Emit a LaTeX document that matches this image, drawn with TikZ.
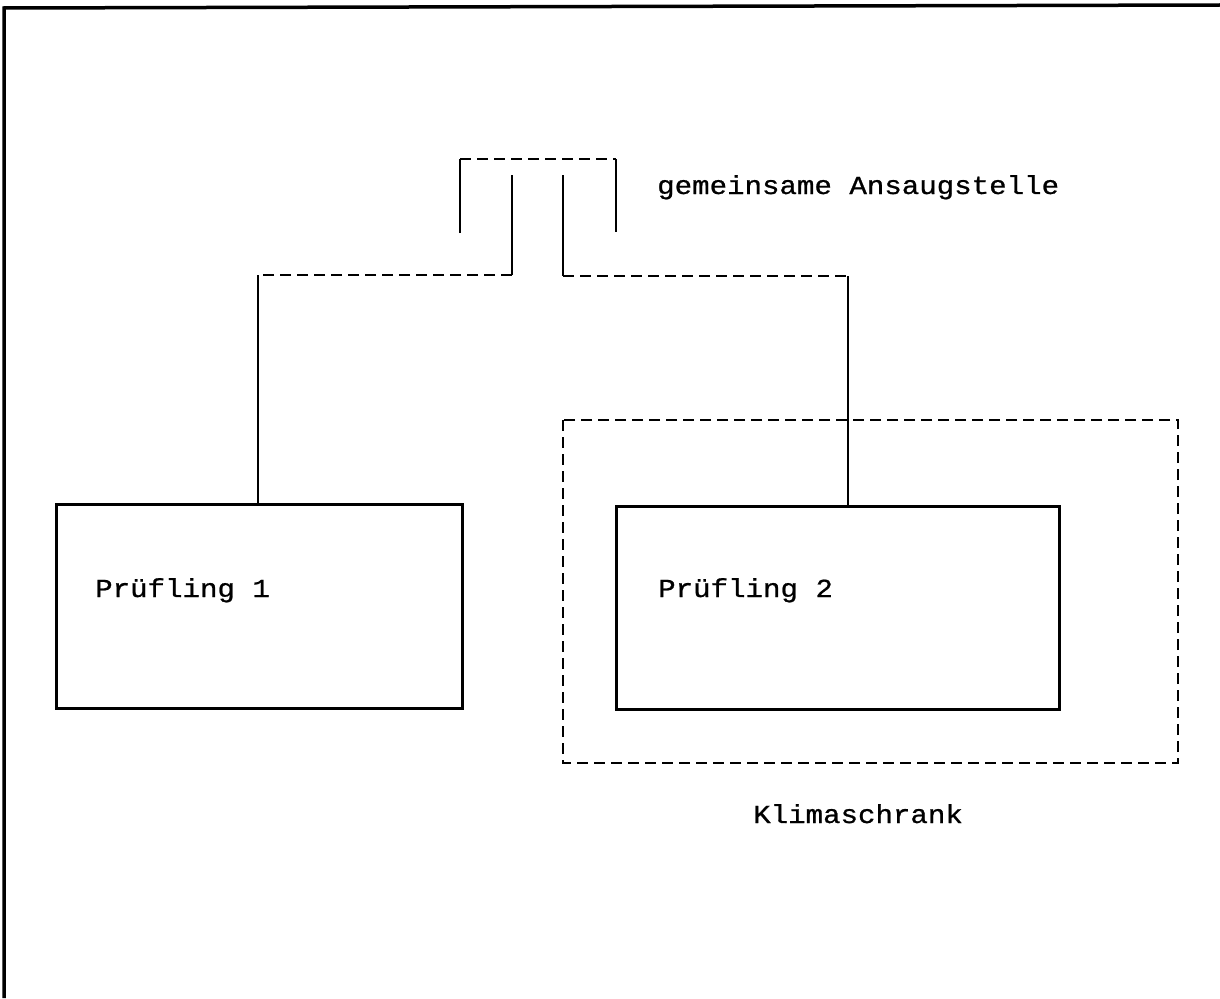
\documentclass[tikz,border=0pt]{standalone}
\usepackage{fontspec}
\setmonofont[FakeBold=0.8]{Liberation Mono}
\begin{document}
\begin{tikzpicture}[x=1pt,y=-1pt,
  thinline/.style={line width=1.5pt},
  dashline/.style={line width=2pt, dash pattern=on 11pt off 6pt},
  testbox/.style={draw, line width=3pt, rectangle, inner sep=0, anchor=north west},
  lbl/.style={anchor=base west, inner sep=0, font=\ttfamily\fontsize{26}{30}\selectfont}
]
\useasboundingbox (0,0) rectangle (1220,998);
% frame
\draw[line width=3.5pt] (4,998) -- (4,8) -- (1220,5);

% test objects
\node[testbox, minimum width=406pt, minimum height=204pt] (p1) at (55,503) {};
\node[testbox, minimum width=443pt, minimum height=203pt] (p2) at (615,505) {};
\node[lbl] (t1) at (95,597) {\scalebox{1.12}[1]{Prüfling 1}};
\node[lbl] (t2) at (658,597) {\scalebox{1.12}[1]{Prüfling 2}};

% climate chamber
\draw[dashline] (563,420) rectangle (1178,763);
\node[lbl] (tk) at (753,823) {\scalebox{1.12}[1]{Klimaschrank}};

% common intake
\coordinate (capL) at (460,233);
\coordinate (capLT) at (460,159);
\coordinate (capRT) at (616,159);
\coordinate (capR) at (616,232);
\draw[thinline] (capL) -- (capLT);
\draw[thinline] (capRT) -- (capR);
\draw[dashline] (capLT) -- (capRT);
\node[lbl] (ta) at (657,194) {\scalebox{1.12}[1]{gemeinsame Ansaugstelle}};

% pipe to Pruefling 1
\coordinate (i1) at (512,175);
\coordinate (b1) at (512,275);
\coordinate (c1) at (258,275);
\draw[thinline] (i1) -- (b1);
\draw[dashline] (b1) -- (c1);
\draw[thinline] (c1) -- (c1 |- p1.north);

% pipe to Pruefling 2
\coordinate (i2) at (563,175);
\coordinate (b2) at (563,276);
\coordinate (c2) at (848,276);
\draw[thinline] (i2) -- (b2);
\draw[dashline] (b2) -- (c2);
\draw[thinline] (c2) -- (c2 |- p2.north);
\end{tikzpicture}
\end{document}
